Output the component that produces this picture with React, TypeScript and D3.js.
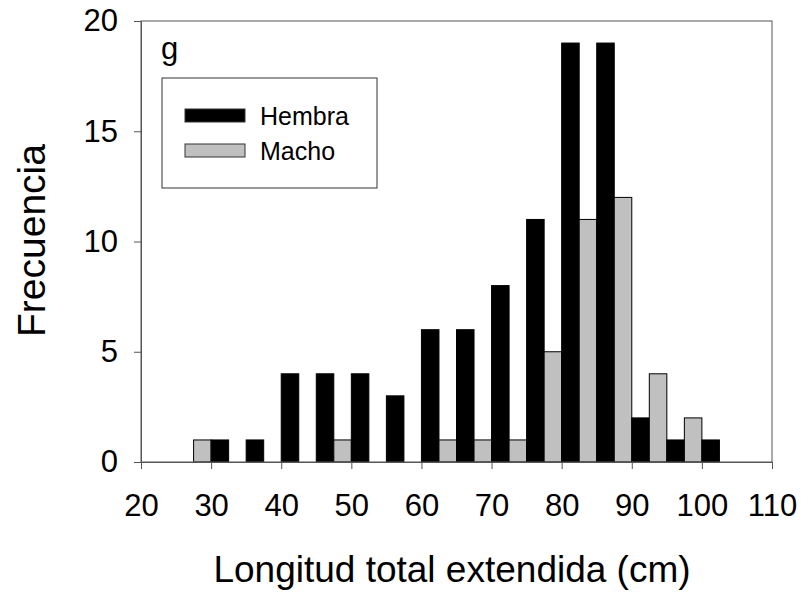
import React, { useRef, useEffect } from 'react'
import * as d3 from 'd3'

// bin centres (cm) and counts per sex
const bins = [30, 35, 40, 45, 50, 55, 60, 65, 70, 75, 80, 85, 90, 95, 100]
const hembra = [1, 1, 4, 4, 4, 3, 6, 6, 8, 11, 19, 19, 2, 1, 1]
const macho = [1, 0, 0, 0, 1, 0, 0, 1, 1, 1, 5, 11, 12, 4, 2]
const xTicks = [20, 30, 40, 50, 60, 70, 80, 90, 100, 110]
const yTicks = [0, 5, 10, 15, 20]
const seriesNames = ['Hembra', 'Macho']
const panelLabel = 'g'

const App = () => {
  const svgRef = useRef<SVGSVGElement | null>(null)

  useEffect(() => {
    const width = 806, height = 597
    const marginTop = 21, marginRight = 34, marginBottom = 135, marginLeft = 141
    const font = '"Liberation Sans", Arial, sans-serif'
    const axisColor = '#555'

    const svg = d3.select(svgRef.current)
    svg.selectAll('*').remove()

    const x = d3.scaleLinear([20, 110], [marginLeft, width - marginRight])
    const y = d3.scaleLinear([0, 20], [height - marginBottom, marginTop])
    const half = 2.5 // each bar covers half a 5 cm bin

    // bars: macho on the left half of the bin, hembra on the right half
    const bars = svg.append('g').attr('stroke', '#000').attr('stroke-width', 1)
    bins.forEach((c, i) => {
      if (macho[i] > 0) {
        bars.append('rect')
          .attr('x', x(c - half))
          .attr('y', y(macho[i]))
          .attr('width', x(c) - x(c - half))
          .attr('height', y(0) - y(macho[i]))
          .attr('fill', '#c0c0c0')
      }
      if (hembra[i] > 0) {
        bars.append('rect')
          .attr('x', x(c))
          .attr('y', y(hembra[i]))
          .attr('width', x(c + half) - x(c))
          .attr('height', y(0) - y(hembra[i]))
          .attr('fill', '#000')
      }
    })

    // frame
    svg.append('rect')
      .attr('x', marginLeft)
      .attr('y', marginTop)
      .attr('width', width - marginRight - marginLeft)
      .attr('height', height - marginBottom - marginTop)
      .attr('fill', 'none')
      .attr('stroke', axisColor)
      .attr('stroke-width', 1)

    const styleAxis = (g: any) => {
      g.select('.domain').attr('stroke', axisColor)
      g.selectAll('.tick line').attr('stroke', axisColor)
      g.selectAll('.tick text')
        .attr('fill', '#000')
        .attr('font-family', font)
        .attr('font-size', 31)
    }

    svg.append('g')
      .attr('transform', `translate(0,${height - marginBottom})`)
      .call(d3.axisBottom(x).tickValues(xTicks).tickSize(7).tickSizeOuter(0).tickPadding(25).tickFormat(d3.format('d')))
      .call(styleAxis)

    svg.append('g')
      .attr('transform', `translate(${marginLeft},0)`)
      .call(d3.axisLeft(y).tickValues(yTicks).tickSize(7).tickSizeOuter(0).tickPadding(16).tickFormat(d3.format('d')))
      .call(styleAxis)

    // axis titles
    svg.append('text')
      .attr('x', 452)
      .attr('y', 582)
      .attr('text-anchor', 'middle')
      .attr('font-family', font)
      .attr('font-size', 37)
      .text('Longitud total extendida (cm)')

    svg.append('text')
      .attr('transform', `translate(45,${(marginTop + height - marginBottom) / 2 - 1}) rotate(-90)`)
      .attr('text-anchor', 'middle')
      .attr('font-family', font)
      .attr('font-size', 39)
      .text('Frecuencia')

    // panel letter
    svg.append('text')
      .attr('x', 161)
      .attr('y', 59)
      .attr('font-family', font)
      .attr('font-size', 31)
      .text(panelLabel)

    // legend
    const legend = svg.append('g')
    legend.append('rect')
      .attr('x', 162).attr('y', 78)
      .attr('width', 215).attr('height', 110)
      .attr('fill', '#fff')
      .attr('stroke', '#333')
      .attr('stroke-width', 1)
    const fills = ['#000', '#c0c0c0']
    seriesNames.forEach((name, i) => {
      legend.append('rect')
        .attr('x', 185).attr('y', 109 + i * 35)
        .attr('width', 60).attr('height', 13)
        .attr('fill', fills[i])
        .attr('stroke', '#333')
        .attr('stroke-width', 1)
      legend.append('text')
        .attr('x', 260).attr('y', 125 + i * 35)
        .attr('font-family', font)
        .attr('font-size', 25)
        .text(name)
    })
  }, [])

  return (
    <svg
      ref={svgRef}
      width={806}
      height={597}
      style={{ position: 'absolute', left: 0, top: 0, background: '#fff' }}
    />
  )
}

export default App
